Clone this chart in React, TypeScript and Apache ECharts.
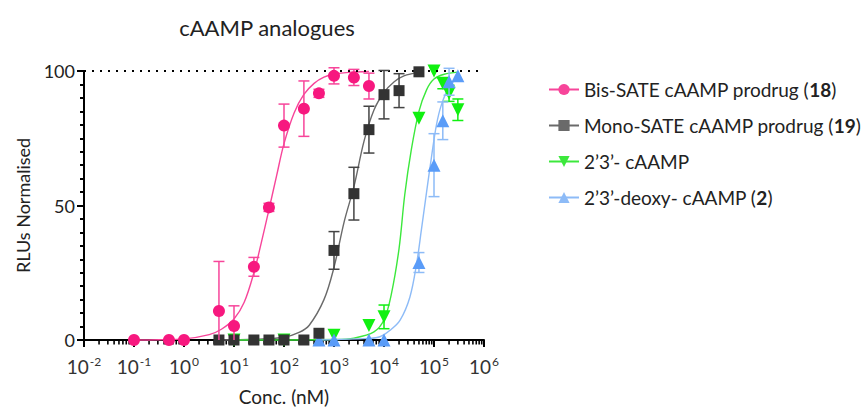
import React, { useEffect, useRef } from 'react';
import * as echarts from 'echarts';

// ---- names ----
const pinkName = 'Bis-SATE cAAMP prodrug (18)';
const monoName = 'Mono-SATE cAAMP prodrug (19)';
const cName = '2’3’- cAAMP';
const dName = '2’3’-deoxy- cAAMP (2)';

// ---- measured points (conc nM, mean, sd) ----
const pinkConc = [0.1, 0.5, 1, 5, 10, 25, 50, 100, 250, 500, 1000, 2500, 5000];
const pinkMean = [0, 0, 0, 10.8, 5.2, 27.2, 49.3, 79.7, 86, 91.7, 98.2, 97.6, 94.4];
const pinkSd = [0, 0, 0, 18.4, 7.5, 3.5, 1.5, 8, 10.3, 1.5, 3, 3, 4.8];

const monoConc = [5, 10, 25, 50, 100, 250, 500, 1000, 2500, 5000, 10000, 20000, 50000];
const monoMean = [0, 0, 0, 0, 0, 0, 2.5, 33.3, 54.4, 78.2, 91.2, 92.7, 99.7];
const monoSd = [0, 0, 0, 0, 0, 0, 0, 7, 9.8, 8.7, 9, 6.3, 0];

const cConc = [10, 100, 1000, 5000, 10000, 50000, 100000, 150000, 200000, 300000];
const cMean = [0, 0, 1.8, 5.4, 8.6, 82.4, 100, 95.4, 91.7, 85.6];
const cSd = [0, 0, 0, 0, 4.4, 0, 0, 2, 3, 4];

const dConc = [500, 1000, 5000, 10000, 50000, 100000, 150000, 200000, 300000];
const dMean = [0, 0, 0, 0, 28.8, 65, 81.5, 96, 98.2];
const dSd = [0, 0, 0, 0, 3.7, 11.7, 7, 5, 0];

// ---- fitted curves ----
const pinkFitX = [0.1, 0.32, 1, 3.2, 5.6, 10, 16, 25, 35, 50, 71, 100, 160, 250, 400, 630, 1000, 2000, 5000];
const pinkFitY = [0, 0.1, 0.4, 2, 4, 7.8, 14, 25, 36, 48.5, 61, 73, 84.5, 91.3, 95.4, 97.7, 98.8, 99.5, 99.8];

const monoFitX = [5, 32, 100, 200, 320, 630, 1000, 1600, 2500, 4000, 6300, 10000, 16000, 25000, 50000];
const monoFitY = [0, 0.3, 1, 2.8, 5.5, 15, 27, 44, 57, 74, 85.5, 92, 96, 98.2, 99.5];

const cFitX = [10, 1000, 2500, 6300, 10000, 14000, 20000, 26000, 35000, 50000, 71000, 100000, 160000, 300000];
const cFitY = [0, 0.2, 0.7, 3, 7.5, 17, 34, 54, 70.5, 85, 93, 97, 98.8, 99.6];

const dFitX = [500, 5000, 8300, 13000, 21000, 33000, 45000, 56000, 71000, 89000, 112000, 141000, 200000, 300000];
const dFitY = [0, 0.6, 1.2, 3.5, 7.4, 16, 28.5, 41, 55, 68, 80, 87.5, 94, 97.8];

// ---- axis ----
const xMin = 0.01;
const xMax = 1e6;
const minorMultipliers = [2, 3, 4, 5, 6, 7, 8, 9];
const decadeStarts = [0.01, 0.1, 1, 10, 100, 1000, 10000, 100000];

const FONT = 'Lato, "Open Sans", sans-serif';

const COL_PINK = '#F7187F';
const COL_BLACK = '#333333';
const COL_GREEN = '#10F010';
const COL_BLUE = '#5A9CF8';
const CURVE_PINK = '#F7459A';
const CURVE_BLACK = '#6A6A6A';
const CURVE_GREEN = '#3CE83C';
const CURVE_BLUE = '#8DBBF7';

function pairs(xs: number[], ys: number[]) {
  return xs.map((x, i) => [x, ys[i]]);
}

function errRows(xs: number[], m: number[], s: number[]) {
  const rows: number[][] = [];
  xs.forEach((x, i) => {
    if (s[i] > 0) rows.push([x, m[i] - s[i], m[i] + s[i]]);
  });
  return rows;
}

function errorSeries(rows: number[][], color: string, z: number) {
  return {
    type: 'custom',
    data: rows,
    z,
    clip: false,
    silent: true,
    renderItem: (params: any, api: any) => {
      const x = api.value(0);
      const lo = Math.max(0, api.value(1));
      const hi = api.value(2);
      const loClamped = api.value(1) < 0;
      const p1 = api.coord([x, hi]);
      const p2 = api.coord([x, lo]);
      const hw = 5.5;
      const st = { stroke: color, lineWidth: 1.5 };
      const children: any[] = [
        { type: 'line', shape: { x1: p1[0], y1: p1[1], x2: p2[0], y2: p2[1] }, style: st },
        { type: 'line', shape: { x1: p1[0] - hw, y1: p1[1], x2: p1[0] + hw, y2: p1[1] }, style: st },
      ];
      if (!loClamped) {
        children.push({ type: 'line', shape: { x1: p2[0] - hw, y1: p2[1], x2: p2[0] + hw, y2: p2[1] }, style: st });
      }
      return { type: 'group', children };
    },
  };
}

function legendFormatter(name: string) {
  const m = name.match(/^(.*\()(\d+)(\))$/);
  if (m) return `{n|${m[1]}}{b|${m[2]}}{n|${m[3]}}`;
  return `{n|${name}}`;
}

export default function App() {
  const ref = useRef<HTMLDivElement>(null);

  useEffect(() => {
    if (!ref.current) return;
    const chart = echarts.init(ref.current, undefined, { renderer: 'svg' });

    const minorTicks: number[][] = [];
    decadeStarts.forEach((d) => minorMultipliers.forEach((k) => minorTicks.push([d * k, 0])));

    const lineSeries = (name: string, xs: number[], ys: number[], color: string, symbol: string, rotate: number, z: number) => ({
      type: 'line',
      name,
      data: pairs(xs, ys),
      smooth: 0.35,
      showSymbol: false,
      symbol,
      symbolSize: 12,
      symbolRotate: rotate,
      clip: false,
      z,
      lineStyle: { color, width: 1.4 },
      itemStyle: { color: color },
    });

    const scatterSeries = (name: string, xs: number[], ys: number[], color: string, symbol: string, rotate: number, z: number) => ({
      type: 'scatter',
      name,
      data: pairs(xs, ys),
      symbol,
      symbolSize: symbol === 'circle' ? 12 : symbol === 'rect' ? 11 : 13,
      symbolRotate: rotate,
      clip: false,
      z,
      itemStyle: { color, opacity: 1 },
    });

    chart.setOption({
      animation: false,
      textStyle: { fontFamily: FONT },
      grid: {
        left: 84,
        top: 71,
        width: 400,
        height: 269,
        containLabel: false,
        outerBoundsMode: 'none',
      },
      graphic: [
        {
          type: 'text',
          x: 267,
          y: 27,
          style: {
            text: 'cAAMP analogues',
            fontFamily: FONT,
            fontSize: 22,
            fill: '#222',
            align: 'center',
            verticalAlign: 'middle',
          },
        },
      ],
      legend: {
        orient: 'vertical',
        left: 543,
        top: 74,
        itemWidth: 30,
        itemHeight: 14,
        itemGap: 15,
        data: [pinkName, monoName, cName, dName],
        formatter: legendFormatter,
        textStyle: {
          fontFamily: FONT,
          fontSize: 19,
          lineHeight: 21,
          color: '#222',
          rich: {
            n: { fontFamily: FONT, fontSize: 19, lineHeight: 21, color: '#222' },
            b: { fontFamily: FONT, fontSize: 19, lineHeight: 21, color: '#222', fontWeight: 'bold' },
          },
        },
      },
      xAxis: {
        type: 'log',
        logBase: 10,
        min: xMin,
        max: xMax,
        splitNumber: 10,
        name: 'Conc. (nM)',
        nameLocation: 'middle',
        nameGap: 46,
        nameTextStyle: { fontFamily: FONT, fontSize: 19, lineHeight: 20, color: '#222' },
        axisLine: { onZero: false, lineStyle: { color: '#000', width: 2 } },
        axisTick: { length: 7, lineStyle: { color: '#000', width: 2 } },
        splitLine: { show: false },
        axisLabel: {
          margin: 15,
          color: '#333',
          formatter: (v: number) => `{b|10}{s|${Math.round(Math.log10(v))}}`,
          rich: {
            b: { fontFamily: FONT, fontSize: 19, color: '#333' },
            s: { fontFamily: FONT, fontSize: 12, color: '#333', padding: [0, 0, 10, 1] },
          },
        },
      },
      yAxis: {
        type: 'value',
        min: 0,
        max: 100,
        interval: 50,
        name: 'RLUs Normalised',
        nameLocation: 'middle',
        nameGap: 52,
        nameTextStyle: { fontFamily: FONT, fontSize: 18, color: '#222' },
        axisLine: { lineStyle: { color: '#000', width: 2 } },
        axisTick: { length: 7, lineStyle: { color: '#000', width: 2 } },
        minorTick: { show: true, splitNumber: 10, length: 4, lineStyle: { color: '#000', width: 2 } },
        splitLine: { show: false },
        axisLabel: { fontFamily: FONT, fontSize: 18, color: '#222', margin: 9 },
      },
      series: [
        lineSeries(pinkName, pinkFitX, pinkFitY, CURVE_PINK, 'circle', 0, 2),
        lineSeries(monoName, monoFitX, monoFitY, CURVE_BLACK, 'rect', 0, 2),
        lineSeries(cName, cFitX, cFitY, CURVE_GREEN, 'triangle', 180, 2),
        lineSeries(dName, dFitX, dFitY, CURVE_BLUE, 'triangle', 0, 2),
        errorSeries(errRows(cConc, cMean, cSd), COL_GREEN, 3),
        errorSeries(errRows(dConc, dMean, dSd), CURVE_BLUE, 4),
        errorSeries(errRows(monoConc, monoMean, monoSd), '#444', 5),
        errorSeries(errRows(pinkConc, pinkMean, pinkSd), CURVE_PINK, 6),
        scatterSeries(cName, cConc, cMean, COL_GREEN, 'triangle', 180, 3),
        scatterSeries(dName, dConc, dMean, COL_BLUE, 'triangle', 0, 4),
        scatterSeries(monoName, monoConc, monoMean, COL_BLACK, 'rect', 0, 5),
        scatterSeries(pinkName, pinkConc, pinkMean, COL_PINK, 'circle', 0, 6),
        {
          type: 'line',
          data: [],
          silent: true,
          markLine: {
            silent: true,
            symbol: 'none',
            label: { show: false },
            lineStyle: { color: '#000', type: [2, 6], width: 2 },
            data: [{ yAxis: 100 }],
          },
        },
        {
          type: 'custom',
          data: minorTicks,
          silent: true,
          clip: false,
          z: 1,
          renderItem: (params: any, api: any) => {
            const p = api.coord([api.value(0), 0]);
            return {
              type: 'line',
              shape: { x1: p[0], y1: p[1], x2: p[0], y2: p[1] + 4.5 },
              style: { stroke: '#000', lineWidth: 1.6 },
            };
          },
        },
      ],
    });

    return () => chart.dispose();
  }, []);

  return (
    <div
      ref={ref}
      style={{ position: 'fixed', left: 0, top: 0, width: 866, height: 410, background: '#fff' }}
    />
  );
}
